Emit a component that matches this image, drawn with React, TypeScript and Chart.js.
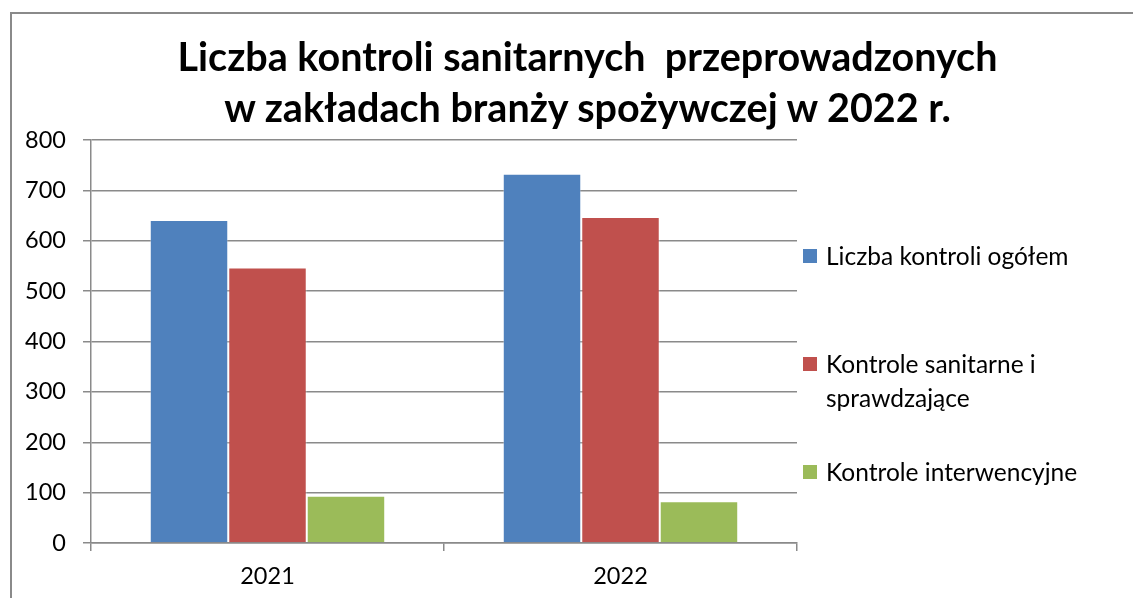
import React, { useEffect, useRef } from "react";
import { Chart, registerables } from "chart.js";

Chart.register(...registerables);

const categories = ["2021", "2022"];
const totalControls = [641, 733];
const sanitaryControls = [547, 647];
const interventionControls = [94, 83];
const seriesLabels = [
  "Liczba kontroli ogółem",
  "Kontrole sanitarne i sprawdzające",
  "Kontrole interwencyjne",
];
const seriesColors = ["#4F81BD", "#C0504D", "#9BBB59"];
const titleLines = [
  "Liczba kontroli sanitarnych  przeprowadzonych",
  "w zakładach branży spożywczej w 2022 r.",
];
const yMin = 0;
const yMax = 800;
const yStep = 100;

const FONT = "Lato, 'Open Sans', sans-serif";
const GRID = "#8a8a8a";

export default function App() {
  const canvasRef = useRef<HTMLCanvasElement | null>(null);

  useEffect(() => {
    const canvas = canvasRef.current;
    if (!canvas) return;
    const chart = new Chart(canvas, {
      type: "bar",
      data: {
        labels: categories,
        datasets: [totalControls, sanitaryControls, interventionControls].map(
          (d, i) => ({
            label: seriesLabels[i],
            data: d,
            backgroundColor: seriesColors[i],
            borderColor: "rgba(255,255,255,0.35)",
            borderWidth: 1,
            categoryPercentage: 0.667,
            barPercentage: 1,
          })
        ),
      },
      options: {
        animation: false,
        responsive: false,
        maintainAspectRatio: false,
        layout: { padding: { top: 140, right: 336, bottom: 0, left: 0 } },
        plugins: {
          legend: { display: false },
          title: { display: false },
          tooltip: { enabled: false },
        },
        scales: {
          x: {
            offset: true,
            grid: {
              offset: true,
              drawOnChartArea: false,
              drawTicks: true,
              tickLength: 8,
              color: GRID,
              lineWidth: 1.5,
            },
            border: { color: GRID, width: 1.5 },
            ticks: {
              color: "#000",
              font: { family: FONT, size: 23.5 },
              padding: 11,
            },
            afterFit: (s: any) => {
              s.height = 55;
            },
          },
          y: {
            min: yMin,
            max: yMax,
            grid: {
              color: GRID,
              lineWidth: 1.5,
              tickLength: 8,
            },
            border: { color: GRID, width: 1.5 },
            ticks: {
              stepSize: yStep,
              color: "#000",
              font: { family: FONT, size: 23.5 },
              padding: 17,
            },
            afterFit: (s: any) => {
              s.width = 91;
            },
          },
        },
      },
    });
    return () => chart.destroy();
  }, []);

  const legendTops = [239, 347, 455];

  return (
    <div
      style={{
        position: "fixed",
        left: 0,
        top: 0,
        width: 1133,
        height: 598,
        background: "#fff",
        overflow: "hidden",
        fontFamily: FONT,
      }}
    >
      <div
        style={{
          position: "absolute",
          left: 10,
          top: 12,
          width: 1200,
          height: 700,
          border: "2px solid #8a8a8a",
        }}
      />
      <canvas
        ref={canvasRef}
        width={1133}
        height={598}
        style={{ position: "absolute", left: 0, top: 0, display: "block" }}
      />
      <div
        style={{
          position: "absolute",
          left: 0,
          top: 30,
          width: 1175,
          textAlign: "center",
          fontWeight: 700,
          fontSize: 39.5,
          lineHeight: "51px",
          color: "#000",
          whiteSpace: "pre",
        }}
      >
        {titleLines.map((t, i) => (
          <div key={i}>{t}</div>
        ))}
      </div>
      {seriesLabels.map((lab, i) => (
        <div
          key={i}
          style={{
            position: "absolute",
            left: 803,
            top: legendTops[i],
            width: 330,
            display: "flex",
            alignItems: "flex-start",
          }}
        >
          <div
            style={{
              width: 14,
              height: 14,
              marginTop: 10,
              background: seriesColors[i],
              flex: "0 0 auto",
            }}
          />
          <div
            style={{
              marginLeft: 9,
              width: 268,
              fontSize: 24.5,
              lineHeight: "34px",
              color: "#000",
            }}
          >
            {lab}
          </div>
        </div>
      ))}
    </div>
  );
}
